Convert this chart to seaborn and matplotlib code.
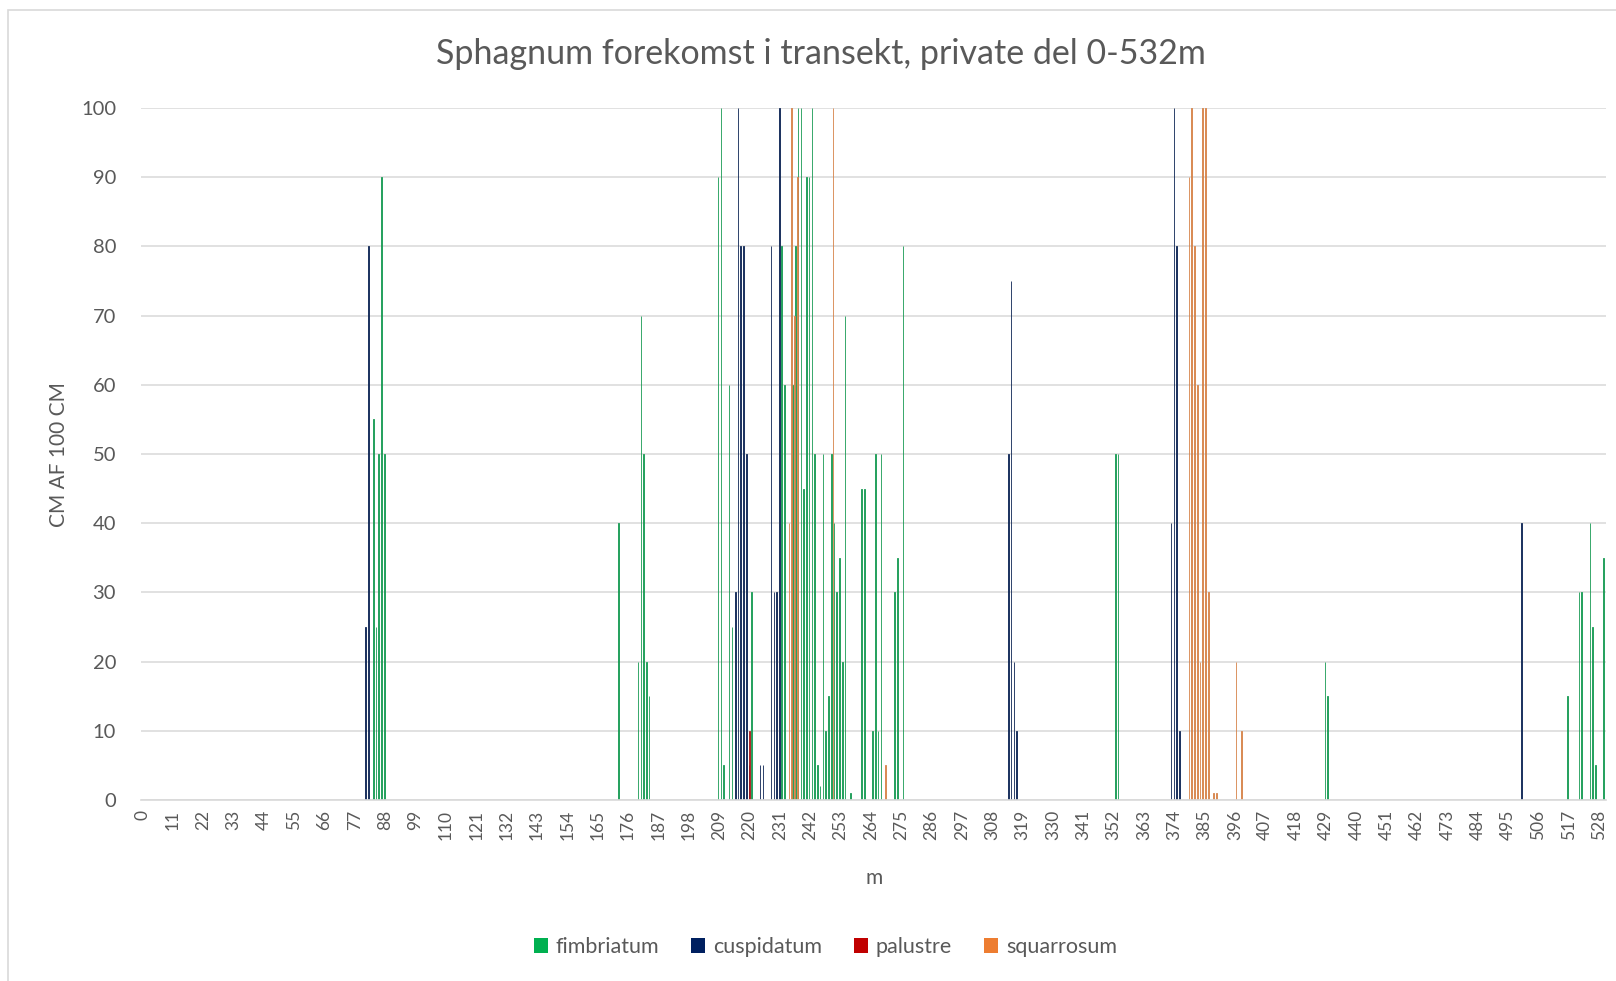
""" Sphagnum occurrence along the transect, private part 0-532 m. """
import numpy as np
import pandas as pd
import seaborn as sns
import matplotlib.pyplot as plt
from matplotlib.patches import Patch, Rectangle

# metres along the transect (one category per metre)
metres = list(range(531))

fimbriatum_m = [84, 85, 86, 87, 88,
                173, 180, 181, 182, 183, 184,
                209, 210, 211, 213, 214, 221,
                232, 233, 236, 237, 238, 239, 240, 241, 242, 243, 244, 245,
                246, 247, 248, 249, 250, 251, 252, 253, 254, 255, 257,
                261, 262, 265, 266, 267, 268, 273, 274, 276,
                353, 354, 429, 430,
                517, 521, 522, 525, 526, 527, 530]
fimbriatum_v = [55, 25, 50, 90, 50,
                40, 20, 70, 50, 20, 15,
                90, 100, 5, 60, 25, 30,
                80, 60, 60, 80, 100, 100, 45, 90, 90, 100, 50, 5,
                2, 50, 10, 15, 50, 40, 30, 35, 20, 70, 1,
                45, 45, 10, 50, 10, 50, 30, 35, 80,
                50, 50, 20, 15,
                15, 30, 30, 40, 25, 5, 35]

cuspidatum_m = [81, 82, 215, 216, 217, 218, 219, 220, 224, 225,
                228, 229, 230, 231, 314, 315, 316, 317,
                373, 374, 375, 376, 500]
cuspidatum_v = [25, 80, 30, 100, 80, 80, 50, 5, 5, 5,
                80, 30, 30, 100, 50, 75, 20, 10,
                40, 100, 80, 10, 40]

palustre_m = [220]
palustre_v = [10]

squarrosum_m = [234, 235, 236, 237, 250, 269,
                379, 380, 381, 382, 383, 384, 385, 386, 388, 389, 396, 398]
squarrosum_v = [40, 100, 70, 90, 100, 5,
                90, 100, 80, 60, 20, 100, 100, 30, 1, 1, 20, 10]

x_labels = ['0', '11', '22', '33', '44', '55', '66', '77', '88', '99', '110',
            '121', '132', '143', '154', '165', '176', '187', '198', '209',
            '220', '231', '242', '253', '264', '275', '286', '297', '308',
            '319', '330', '341', '352', '363', '374', '385', '396', '407',
            '418', '429', '440', '451', '462', '473', '484', '495', '506',
            '517', '528']

species = ['fimbriatum', 'cuspidatum', 'palustre', 'squarrosum']
colors = {'fimbriatum': '#00B050', 'cuspidatum': '#002060',
          'palustre': '#C00000', 'squarrosum': '#ED7D31'}

series = {'fimbriatum': (fimbriatum_m, fimbriatum_v),
          'cuspidatum': (cuspidatum_m, cuspidatum_v),
          'palustre': (palustre_m, palustre_v),
          'squarrosum': (squarrosum_m, squarrosum_v)}

rows = []
for sp in species:
    found = dict(zip(*series[sp]))
    for m in metres:
        rows.append({'m': m, 'species': sp, 'value': found.get(m, 0)})
df = pd.DataFrame(rows)

sns.set_style('white')
plt.rcParams['font.family'] = ['Lato', 'DejaVu Sans']
text_col = '#595959'

fig = plt.figure(figsize=(16.16, 9.81), dpi=100)
ax = fig.add_axes([0.0873, 0.1845, 0.9065, 0.7054])

sns.barplot(data=df, x='m', y='value', hue='species', order=metres,
            hue_order=species, palette=colors, errorbar=None, width=0.9,
            dodge=True, legend=False, ax=ax)

# crisp thin columns like Excel; zero bars stay invisible
for p in ax.patches:
    if p.get_height() > 0:
        p.set_edgecolor(p.get_facecolor())
        p.set_linewidth(0.6)
    else:
        p.set_linewidth(0)

N = len(metres)
ax.set_xlim(-0.5, N - 0.5)
ax.set_ylim(0, 100)
ax.set_yticks(range(0, 101, 10))
ax.yaxis.grid(True, color='#D9D9D9', linewidth=1.1)
ax.set_axisbelow(True)
for s in ['top', 'right', 'left']:
    ax.spines[s].set_visible(False)
ax.spines['bottom'].set_color('#D9D9D9')
ax.spines['bottom'].set_linewidth(1.2)

ax.set_xticks(range(0, N, 11))
ax.set_xticklabels(x_labels, rotation=90)
ax.set_xticks(np.arange(-0.5, N, 10), minor=True)
ax.tick_params(axis='x', which='major', length=0, pad=7, labelsize=12.5,
               labelcolor=text_col)
ax.tick_params(axis='x', which='minor', length=5, width=1.1,
               color='#D9D9D9', direction='out')
ax.tick_params(axis='y', length=0, pad=18, labelsize=14.5, labelcolor=text_col)
ax.set_xlabel('')
ax.set_ylabel('')

fig.text(0.5077, 0.945, 'Sphagnum forekomst i transekt, private del 0-532m',
         ha='center', va='center', fontsize=24.5, color=text_col)
fig.text(0.0365, 0.5367, 'CM AF 100 CM', rotation=90, ha='center',
         va='center', fontsize=15, color=text_col)
fig.text(0.541, 0.105, 'm', ha='center', va='center', fontsize=15,
         color=text_col)

handles = [Patch(facecolor=colors[sp], edgecolor='none', label=sp)
           for sp in species]
fig.legend(handles=handles, loc='center', bbox_to_anchor=(0.5108, 0.0347),
           ncol=4, frameon=False, fontsize=15.5, handlelength=0.65,
           handleheight=0.65, handletextpad=0.35, columnspacing=1.5,
           labelcolor=text_col)

fig.add_artist(Rectangle((8 / 1616, -0.01), 1.0, (981 - 10) / 981 + 0.01,
                         transform=fig.transFigure, fill=False,
                         edgecolor='#D9D9D9', linewidth=1.2))

fig.savefig('out.png', dpi=100, facecolor='white')
